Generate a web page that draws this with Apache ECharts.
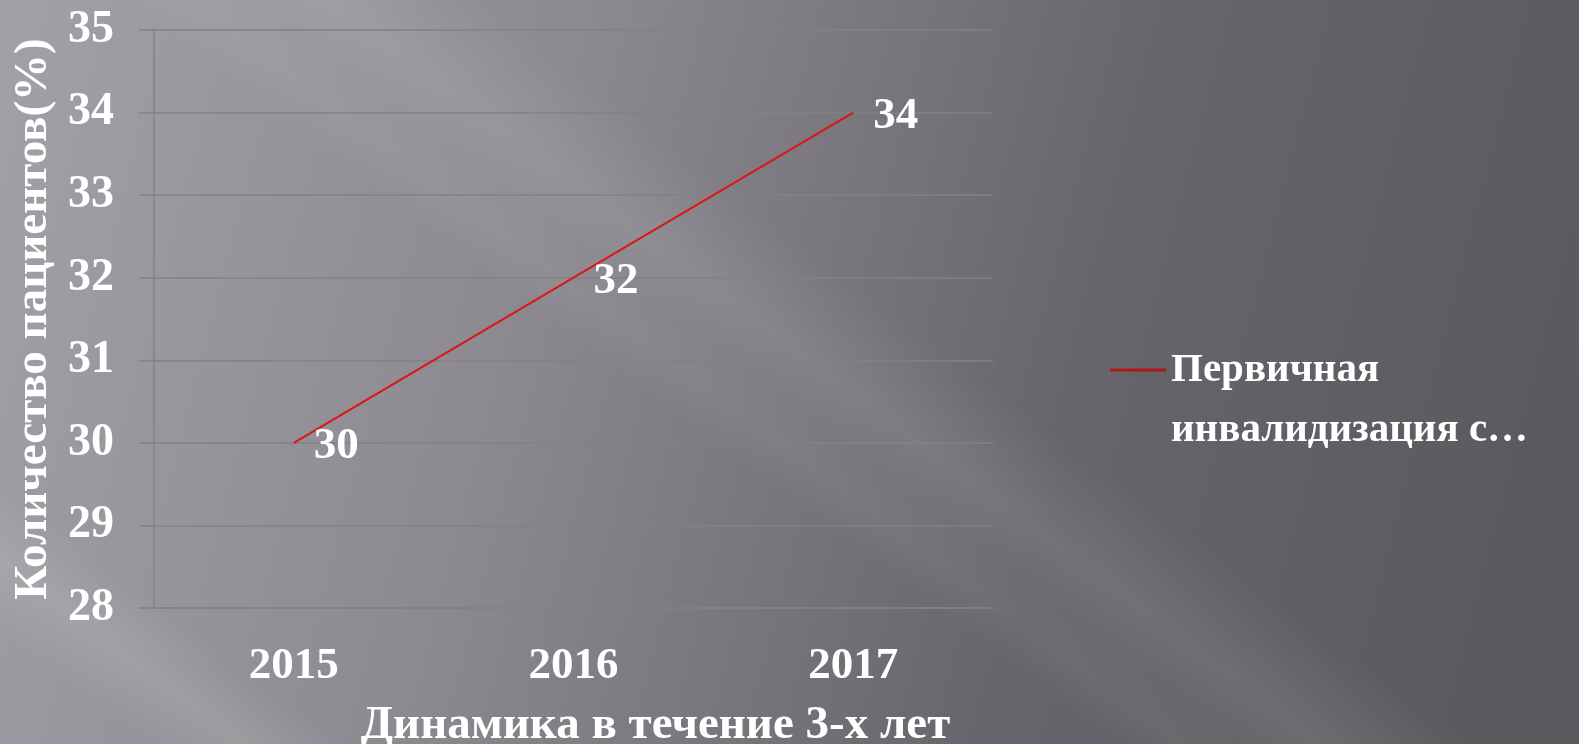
<!DOCTYPE html>
<html>
<head>
<meta charset="utf-8">
<script src="https://cdn.jsdelivr.net/npm/echarts@6/dist/echarts.min.js"></script>
<style>
  html, body { margin: 0; padding: 0; }
  #chart { width: 1579px; height: 744px; }
</style>
</head>
<body>
<div id="chart"></div>
<script>
// данные
const years = ['2015', '2016', '2017'];
const values = [30, 32, 34];
const seriesName = 'Первичная инвалидизация с…';
const yTicks = { min: 28, max: 35, step: 1 };

const font = "'Liberation Serif', 'Times New Roman', serif";
const gridColor = '#838186';

// мягкая диагональная полоса (блик) фона
function streak(x1, y1, x2, y2, half, alpha) {
    const px = -0.6 * half, py = 0.8 * half;
    return {
        type: 'polygon', silent: true, z: -10,
        shape: { points: [[x1 - px, y1 - py], [x2 - px, y2 - py], [x2 + px, y2 + py], [x1 + px, y1 + py]] },
        style: {
            fill: {
                type: 'linear', global: true,
                x: x1 - px, y: y1 - py, x2: x1 + px, y2: y1 + py,
                colorStops: [
                    { offset: 0, color: 'rgba(255,255,255,0)' },
                    { offset: 0.5, color: 'rgba(255,255,255,' + alpha + ')' },
                    { offset: 1, color: 'rgba(255,255,255,0)' }
                ]
            }
        }
    };
}

const chart = echarts.init(document.getElementById('chart'));

const option = {
    backgroundColor: {
        type: 'linear', x: 0, y: 0, x2: 1, y2: 0.55,
        colorStops: [
            { offset: 0, color: '#a3a1a7' },
            { offset: 0.35, color: '#8c8a90' },
            { offset: 0.7, color: '#67656b' },
            { offset: 1, color: '#5b595e' }
        ]
    },
    graphic: [
        streak(250, -60, 1750, 1065, 90, 0.09),
        streak(-220, 395, 420, 875, 60, 0.1),
        streak(80, -80, 1500, 985, 40, 0.05)
    ],
    grid: { left: 154, right: 586, top: 30, bottom: 136, containLabel: false, outerBoundsMode: 'none' },
    legend: {
        left: 1105,
        top: 275,
        icon: 'rect',
        itemWidth: 56,
        itemHeight: 3,
        itemGap: 4,
        data: [{ name: seriesName, itemStyle: { color: '#b01818' } }],
        // пустая первая строка, чтобы линия легенды стояла на уровне первой строки текста
        formatter: name => '\n' + name.replace(' ', '\n'),
        textStyle: {
            color: '#ffffff', fontFamily: font, fontWeight: 'bold',
            fontSize: 41, lineHeight: 60
        }
    },
    xAxis: {
        type: 'category',
        data: years,
        boundaryGap: true,
        name: 'Динамика в течение 3-х лет',
        nameLocation: 'middle',
        nameGap: 94,
        nameTextStyle: {
            color: '#ffffff', fontFamily: font, fontWeight: 'bold', fontSize: 47,
            padding: [0, 0, 0, 164]
        },
        axisLine: { show: true, lineStyle: { color: gridColor, width: 1.5 } },
        axisTick: { show: false },
        axisLabel: {
            color: '#ffffff', fontFamily: font, fontWeight: 'bold', fontSize: 45,
            margin: 36
        }
    },
    yAxis: {
        type: 'value',
        min: yTicks.min,
        max: yTicks.max,
        interval: yTicks.step,
        name: 'Количество пациентов(%)',
        nameLocation: 'middle',
        nameGap: 97,
        nameTextStyle: {
            color: '#ffffff', fontFamily: font, fontWeight: 'bold', fontSize: 47
        },
        axisLine: { show: true, lineStyle: { color: gridColor, width: 1.5 } },
        axisTick: { show: true, length: 15, lineStyle: { color: gridColor, width: 1.5 } },
        splitLine: { show: true, lineStyle: { color: gridColor, width: 1.5 } },
        axisLabel: {
            color: '#ffffff', fontFamily: font, fontWeight: 'bold', fontSize: 46,
            margin: 40
        }
    },
    series: [{
        name: seriesName,
        type: 'line',
        data: values,
        symbol: 'circle',
        symbolSize: 0,
        lineStyle: { color: '#e01414', width: 2 },
        itemStyle: { color: '#e01414' },
        label: {
            show: true,
            position: 'right',
            distance: 20,
            offset: [0, 4],
            color: '#ffffff', fontFamily: font, fontWeight: 'bold', fontSize: 45
        }
    }]
};

chart.setOption(option);
window.addEventListener('resize', () => chart.resize());
</script>
</body>
</html>
